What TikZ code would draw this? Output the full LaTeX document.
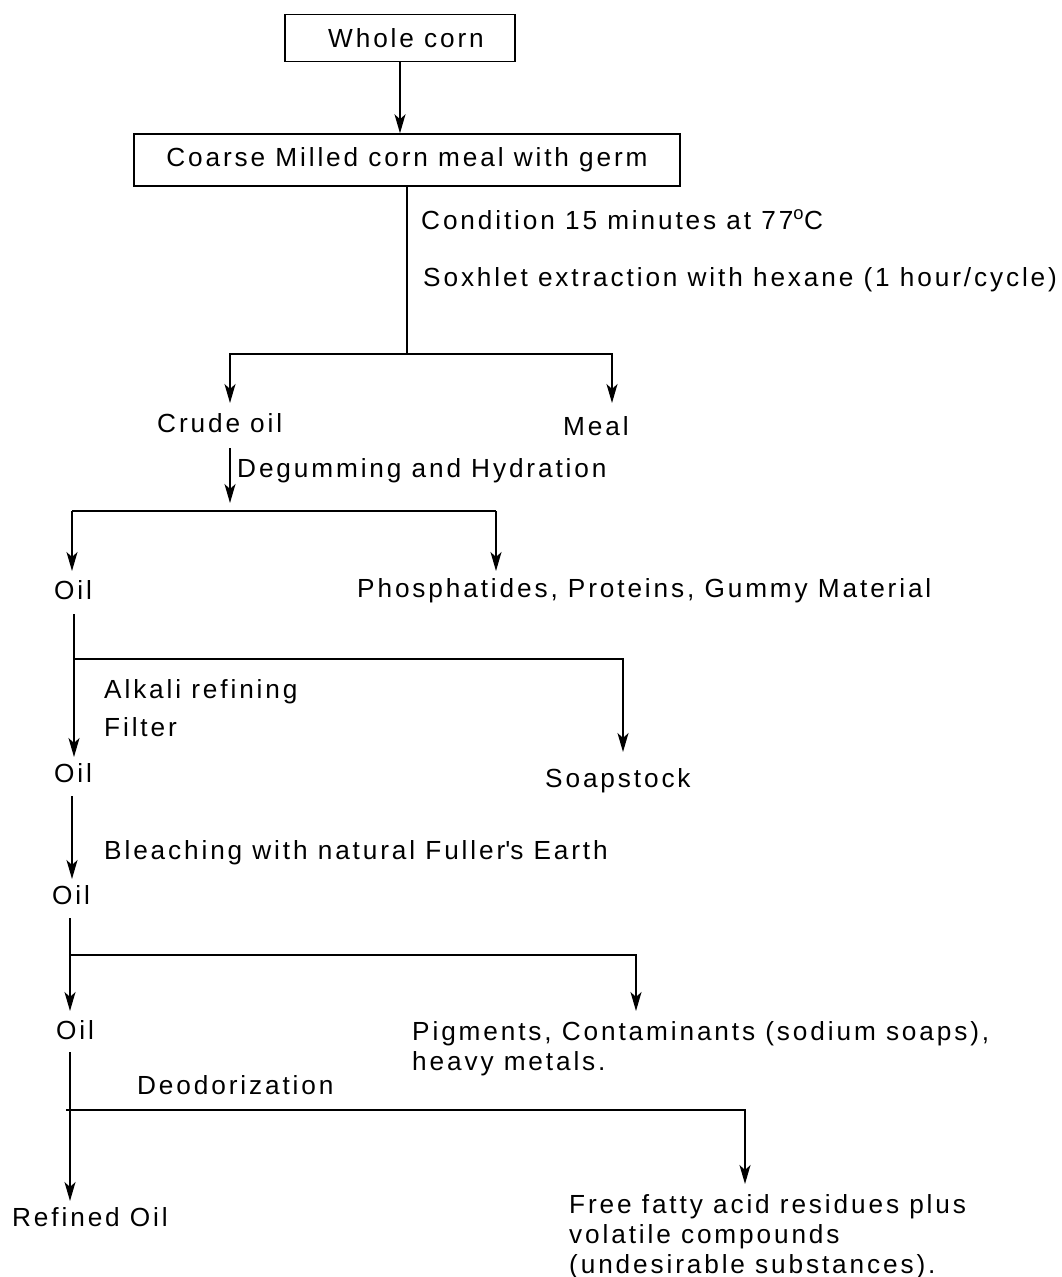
\documentclass[tikz,border=0pt]{standalone}
\usepackage{fontspec}
\setmainfont{Liberation Sans}[LetterSpace=11]
\usetikzlibrary{arrows.meta}
\begin{document}
\begin{tikzpicture}[x=1pt,y=-1pt,
  lbl/.style={inner sep=0pt,anchor=base west,font=\fontsize{26.2}{30}\selectfont},
  mlbl/.style={inner sep=0pt,anchor=north west,align=left,font=\fontsize{26.2}{30}\selectfont},
  boxnode/.style={draw,line width=1.5pt,inner sep=0pt,font=\fontsize{26.2}{30}\selectfont},
  conn/.style={line width=1.6pt},
  arr/.style={line width=1.6pt,-{Stealth[length=19pt,width=11pt,inset=5pt]}}]
\path[use as bounding box,fill=white] (0,0) rectangle (1062,1277);
% boxes
\node[boxnode,minimum width=230pt,minimum height=47pt] (wc) at (400,38) {\hspace{12pt}Whole corn};
\node[boxnode,minimum width=546pt,minimum height=52pt] (cm) at (407,160) {Coarse Milled corn meal with germ};
% labels
\node[lbl] (cond) at (421,229) {Condition 15 minutes at 77\textsuperscript{o}C};
\node[lbl] (sox) at (423,286) {Soxhlet extraction with hexane (1 hour/cycle)};
\node[lbl] (crude) at (157,432) {Crude oil};
\node[lbl] (meal) at (563,435) {Meal};
\node[lbl] (degum) at (237,477) {Degumming and Hydration};
\node[lbl] (oil1) at (54,599) {Oil};
\node[lbl] (phos) at (357,597) {Phosphatides, Proteins, Gummy Material};
\node[lbl] (alk) at (104,698) {Alkali refining};
\node[lbl] (filt) at (104,736) {Filter};
\node[lbl] (oil2) at (54,782) {Oil};
\node[lbl] (soap) at (545,787) {Soapstock};
\node[lbl] (bleach) at (104,859) {Bleaching with natural Fuller\textquotesingle s Earth};
\node[lbl] (oil3) at (52,904) {Oil};
\node[lbl] (oil4) at (56,1039) {Oil};
\node[mlbl] (pig) at (412,1021) {Pigments, Contaminants (sodium soaps),\\heavy metals.};
\node[lbl] (deod) at (137,1094) {Deodorization};
\node[lbl] (refined) at (12,1226) {Refined Oil};
\node[mlbl] (ffa) at (569,1194) {Free fatty acid residues plus\\volatile compounds\\(undesirable substances).};
% coordinates
\coordinate (j1) at (407,354);
\coordinate (crudeIn) at (230,403);
\coordinate (mealIn) at (612,403);
\coordinate (degOut) at (230,448);
\coordinate (degIn) at (230,503);
\coordinate (j2a) at (72,511);
\coordinate (j2b) at (496,511);
\coordinate (oil1In) at (72,571);
\coordinate (phosIn) at (496,571);
\coordinate (oil1Out) at (74,614);
\coordinate (j3) at (74,659);
\coordinate (oil2In) at (74,757);
\coordinate (soapIn) at (623,752);
\coordinate (oil2Out) at (72,796);
\coordinate (oil3In) at (72,879);
\coordinate (oil3Out) at (70,918);
\coordinate (j4) at (70,955);
\coordinate (oil4In) at (70,1011);
\coordinate (pigIn) at (636,1011);
\coordinate (oil4Out) at (70,1052);
\coordinate (j5) at (66,1110);
\coordinate (refIn) at (70,1201);
\coordinate (ffaIn) at (745,1184);
% connectors
\draw[arr] (wc.south) -- (wc.south |- cm.north);
\draw[conn] (cm.south) -- (j1);
\draw[arr] (j1) -| (crudeIn);
\draw[arr] (j1) -| (mealIn);
\draw[arr] (degOut) -- (degIn);
\draw[conn] (j2a) -- (j2b);
\draw[arr] (j2a) -- (oil1In);
\draw[arr] (j2b) -- (phosIn);
\draw[arr] (oil1Out) -- (oil2In);
\draw[arr] (j3) -| (soapIn);
\draw[arr] (oil2Out) -- (oil3In);
\draw[arr] (oil3Out) -- (oil4In);
\draw[arr] (j4) -| (pigIn);
\draw[arr] (oil4Out) -- (refIn);
\draw[arr] (j5) -| (ffaIn);
\end{tikzpicture}
\end{document}
